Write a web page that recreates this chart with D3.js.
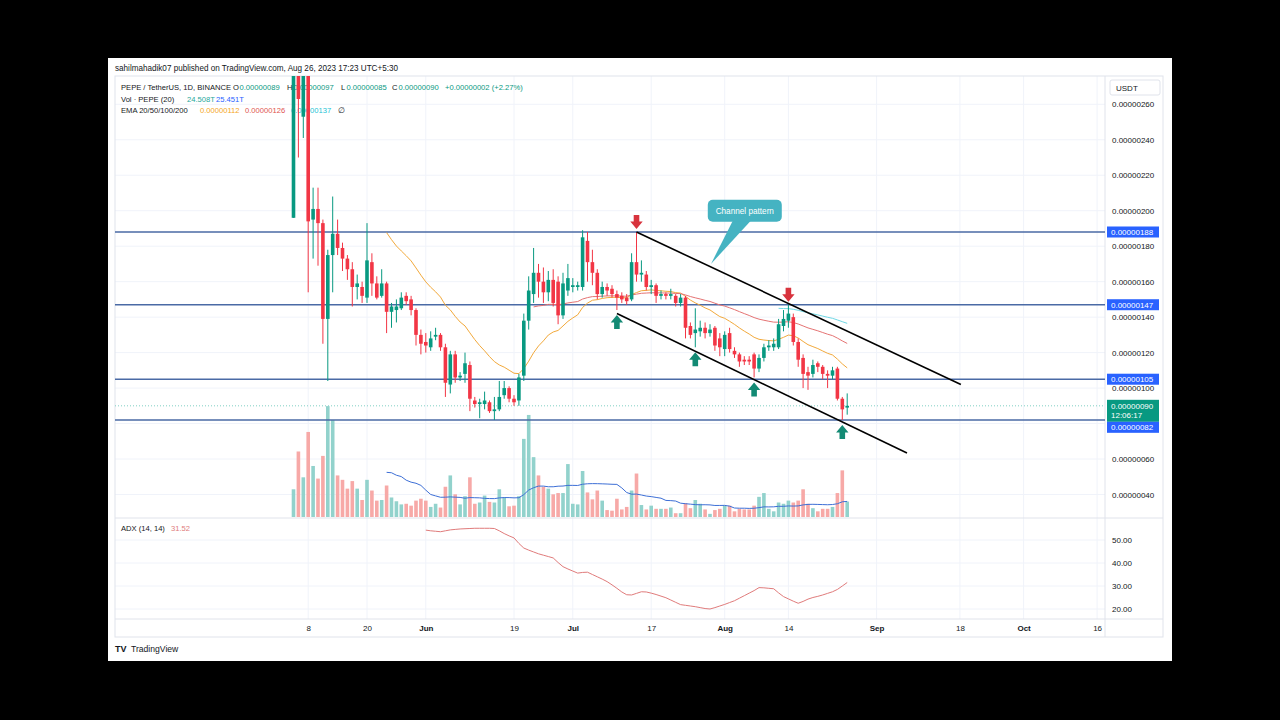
<!DOCTYPE html>
<html>
<head>
<meta charset="utf-8">
<script src="https://cdn.jsdelivr.net/npm/d3@7"></script>
<style>
  html, body { margin: 0; padding: 0; background: #000; }
  svg { display: block; }
  text { font-family: "Liberation Sans", Arial, sans-serif; }
</style>
</head>
<body>
<svg id="chart" width="1280" height="720"></svg>
<script>
// daily candles PEPE/USDT from 2023-05-05, prices in units of 0.00000001
var startDate = "2023-05-05";
var opens = [196,340,253,290,195,201,193,139,175,187,
  179,173,167,157,157,151,171,159,152,159,
  143,144,145,152,150,144,130,126,123,129,
  130,123,102,119,106,108,113,93,91,91,
  92,87,88,96,100,94,93,107,138,153,
  165,160,154,161,160,141,155,157,157,157,
  183,171,165,153,157,156,153,152,151,150,
  171,164,164,157,158,152,153,152,152,148,
  151,135,131,132,134,131,134,128,122,131,
  121,119,116,116,119,111,117,123,123,123,
  135,138,140,126,117,109,108,114,112,108,
  107,111,94,89];
var highs = [430,380,300,300,213,213,195,178,208,195,
  182,175,171,164,160,193,176,163,167,160,
  148,150,154,154,152,145,133,131,132,134,
  131,125,121,121,109,120,115,95,94,98,
  93,95,104,104,101,96,108,142,163,179,
  170,168,166,167,163,165,170,162,160,189,
  188,178,167,160,159,158,155,154,153,176,
  188,172,166,161,159,155,154,156,153,153,
  152,137,145,138,137,136,135,131,132,134,
  123,120,118,118,120,119,125,127,128,139,
  144,147,142,128,119,112,116,115,113,110,
  112,112,95,97];
var lows = [196,230,241,154,173,169,125,104,154,175,
  166,161,146,150,148,148,152,150,151,131,
  134,137,144,147,141,124,119,120,121,127,
  121,95,97,103,104,103,87,89,83,88,
  86,82,87,94,92,90,90,104,133,148,
  151,148,149,146,136,139,152,154,155,155,
  160,158,150,151,152,151,144,148,147,149,
  160,160,155,153,148,150,150,150,146,146,
  128,128,123,129,128,129,121,118,118,120,
  117,112,113,113,106,109,115,121,121,122,
  132,134,124,112,100,99,106,109,105,100,
  105,93,82,85];
var closes = [340,263,290,194,201,193,139,175,187,179,
  173,167,157,159,152,172,159,151,159,143,
  146,146,151,149,144,130,125,124,128,130,
  123,103,119,106,107,114,94,91,92,93,
  87,88,95,100,94,92,106,138,155,165,
  160,154,161,148,141,159,162,158,158,185,
  171,165,153,157,155,153,151,150,149,171,
  164,165,157,158,152,153,152,153,148,151,
  134,130,133,134,131,133,124,123,130,122,
  119,115,115,115,111,117,123,124,125,136,
  139,142,126,116,108,107,113,112,108,107,
  110,94,88,90];
// volume in T (trillions)
var volumes = [44,104,63,135,81,61,97,176,154,66,
  59,45,57,45,27,59,42,26,27,50,
  31,25,20,21,18,26,29,26,16,21,
  15,48,66,36,20,33,63,21,23,34,
  24,23,44,31,17,18,33,124,162,95,
  66,48,45,36,38,38,84,21,20,73,
  39,28,42,26,11,10,29,12,16,42,
  69,19,12,18,13,13,13,15,6,6,
  22,14,27,21,12,5,11,13,18,18,
  9,13,12,12,18,32,38,13,9,23,
  21,26,23,26,44,21,14,9,13,13,
  16,38,74,24.508];
var adxStart = 27;
var adxValues = [54.3,54.0,53.8,53.6,54.0,54.4,54.6,54.8,54.9,55.0,
  55.1,55.1,55.1,55.1,55.0,54.0,52.8,51.8,50.9,48.5,
  46.5,45.6,44.8,44.0,43.4,42.8,42.2,40.2,38.4,37.4,
  36.5,35.6,35.9,36.0,35.0,34.0,33.0,31.9,30.5,29.0,
  27.4,26.2,26.1,26.8,27.5,27.4,26.9,26.3,25.6,24.9,
  23.9,22.9,21.9,21.6,21.3,21.0,20.6,20.2,20.0,20.6,
  21.3,22.0,22.8,23.6,24.7,25.8,26.9,28.0,29.3,29.2,
  29.0,28.8,27.0,25.4,24.4,23.4,22.5,23.3,24.3,25.0,
  25.5,26.1,26.8,27.5,28.5,30.0,31.52];
// legend readings of the indicators (last bar)
var volLegend = ["24.508T", "25.451T"];
var emaLegend = ["0.00000112", "0.00000126", "0.00000137"];

var levels = [188, 147, 105, 82];
var priceTicks = [40, 60, 80, 100, 120, 140, 160, 180, 200, 220, 240, 260];
var hiddenTicks = [80];
var adxTicks = [20, 30, 40, 50];
var tickDates = ["2023-05-08","2023-05-20","2023-06-01","2023-06-19","2023-07-01","2023-07-17",
  "2023-08-01","2023-08-14","2023-09-01","2023-09-18","2023-10-01","2023-10-16"];
var tickLabels = ["8","20","Jun","19","Jul","17","Aug","14","Sep","18","Oct","16"];
// channel pattern: [day index, price]
var channelUpper = [[70, 188], [136.2, 102]];
var channelLower = [[66, 142], [125.2, 63.4]];
var arrowsDown = [70, 101];
var arrowsUp = [66, 82, 94, 112];

var svg = d3.select("#chart");
var unit = 1e-8;
var parseDay = d3.utcParse("%Y-%m-%d");
var day0 = parseDay(startDate);
var greenC = "#089981", redC = "#f23645", inkC = "#131722";
var last = closes.length - 1;

//pane geometry
var left = 115, right = 1105, axisRight = 1163;
var mainTop = 76, mainBottom = 518, adxBottom = 619, frameBottom = 637;

var x = d3.scaleUtc()
  .domain([day0, parseDay("2023-10-16")])
  .range([293.5, 1097.1]);
function xAt(i) { return x(new Date(+day0 + i * 864e5)); }

var y = d3.scaleLinear().domain([40, 260]).range([494.5, 104.3]);
var yVol = d3.scaleLinear().domain([0, 100]).range([517, 454]);
var yAdx = d3.scaleLinear().domain([20, 50]).range([609, 540]);

function fmt(v) { return (v * unit).toFixed(8); }

svg.append("rect").attr("width", 1280).attr("height", 720).attr("fill", "#000");
svg.append("rect").attr("x", 108).attr("y", 58).attr("width", 1064).attr("height", 603).attr("fill", "#fff");

var defs = svg.append("defs");
defs.append("clipPath").attr("id", "mainClip").append("rect")
  .attr("x", left).attr("y", mainTop).attr("width", right - left).attr("height", mainBottom - mainTop);
defs.append("clipPath").attr("id", "adxClip").append("rect")
  .attr("x", left).attr("y", mainBottom).attr("width", right - left).attr("height", adxBottom - mainBottom);

// grid lines
var grid = svg.append("g");
grid.selectAll("line.v").data(tickDates).enter().append("line")
  .attr("x1", function(d) { return x(parseDay(d)); })
  .attr("x2", function(d) { return x(parseDay(d)); })
  .attr("y1", mainTop).attr("y2", adxBottom)
  .attr("stroke", "#f0f3fa");
grid.selectAll("line.h").data(priceTicks).enter().append("line")
  .attr("x1", left).attr("x2", right)
  .attr("y1", function(d) { return y(d); }).attr("y2", function(d) { return y(d); })
  .attr("stroke", "#f0f3fa");
grid.selectAll("line.a").data(adxTicks).enter().append("line")
  .attr("x1", left).attr("x2", right)
  .attr("y1", function(d) { return yAdx(d); }).attr("y2", function(d) { return yAdx(d); })
  .attr("stroke", "#f0f3fa");

// frame and separators
svg.append("rect").attr("x", left).attr("y", mainTop).attr("width", axisRight - left)
  .attr("height", frameBottom - mainTop).attr("fill", "none").attr("stroke", "#e0e3eb");
svg.append("line").attr("x1", right).attr("x2", right).attr("y1", mainTop).attr("y2", frameBottom).attr("stroke", "#e0e3eb");
svg.append("line").attr("x1", left).attr("x2", axisRight).attr("y1", mainBottom).attr("y2", mainBottom).attr("stroke", "#e0e3eb");
svg.append("line").attr("x1", left).attr("x2", axisRight).attr("y1", adxBottom).attr("y2", adxBottom).attr("stroke", "#e0e3eb");

// header and legend texts (drawn under the candles)
svg.append("text").attr("x", 115).attr("y", 71).attr("font-size", 9).attr("fill", inkC)
  .attr("textLength", 283).attr("lengthAdjust", "spacingAndGlyphs")
  .text("sahilmahadik07 published on TradingView.com, Aug 26, 2023 17:23 UTC+5:30");

// one text per legend row, pieces as tspans
function legendRow(py, pieces) {
  var t = svg.append("text").attr("y", py).attr("font-size", 7.6);
  pieces.forEach(function(p) {
    t.append("tspan").attr("x", p[0]).attr("fill", p[2]).text(p[1]);
  });
}
var change = closes[last] - closes[last - 1];
legendRow(90, [
  [121, "PEPE / TetherUS, 1D, BINANCE", inkC],
  [233, "O", inkC], [239.5, fmt(opens[last]), greenC],
  [287, "H", inkC], [293.5, fmt(highs[last]), greenC],
  [341, "L", inkC], [346.5, fmt(lows[last]), greenC],
  [392, "C", inkC], [398.5, fmt(closes[last]), greenC],
  [445, "+" + fmt(change) + " (+" + (change / closes[last - 1] * 100).toFixed(2) + "%)", greenC]
]);
legendRow(101.5, [
  [121, "Vol \u00b7 PEPE (20)", inkC],
  [187, volLegend[0], "#26a69a"],
  [216, volLegend[1], "#2962ff"]
]);
legendRow(113, [
  [121, "EMA 20/50/100/200", inkC],
  [200, emaLegend[0], "#f5a623"],
  [245, emaLegend[1], "#e0534f"],
  [291, emaLegend[2], "#22c3d6"],
  [338, "\u2205", inkC]
]);

var volSma = sma(volumes, 20);
var ema20 = ema(closes, 20), ema50 = ema(closes, 50), ema100 = ema(closes, 100);

var main = svg.append("g").attr("clip-path", "url(#mainClip)");

// volume bars
main.append("g").selectAll("rect").data(volumes).enter().append("rect")
  .attr("x", function(d, i) { return xAt(i) - 1.8; })
  .attr("width", 3.6)
  .attr("y", function(d) { return yVol(d); })
  .attr("height", function(d) { return yVol(0) - yVol(d); })
  .attr("fill", function(d, i) { return closes[i] >= opens[i] ? "#92d2cc" : "#f7a9a7"; });

var lineGen = d3.line()
  .defined(function(d) { return d != null; })
  .x(function(d, i) { return xAt(i); });

main.append("path").datum(volSma)
  .attr("d", lineGen.y(function(d) { return yVol(d); }))
  .attr("fill", "none").attr("stroke", "#3d6fd6").attr("stroke-width", 1);

// horizontal levels and last price line
main.selectAll("line.lvl").data(levels).enter().append("line")
  .attr("x1", left).attr("x2", right)
  .attr("y1", function(d) { return y(d); }).attr("y2", function(d) { return y(d); })
  .attr("stroke", "#4a6aa5").attr("stroke-width", 1.6);
main.append("line").attr("x1", left).attr("x2", right)
  .attr("y1", y(closes[last])).attr("y2", y(closes[last]))
  .attr("stroke", "#7fcfc3").attr("stroke-dasharray", "1,2");

// ema lines
[[ema20, "#f2a93b"], [ema50, "#e57373"], [ema100, "#6fd8e4"]].forEach(function(e) {
  main.append("path").datum(e[0])
    .attr("d", lineGen.y(function(d) { return y(d); }))
    .attr("fill", "none").attr("stroke", e[1]).attr("stroke-width", 1);
});

// candles
var candles = main.append("g").selectAll("g").data(closes).enter().append("g");
candles.append("line")
  .attr("x1", function(d, i) { return xAt(i); }).attr("x2", function(d, i) { return xAt(i); })
  .attr("y1", function(d, i) { return y(highs[i]); }).attr("y2", function(d, i) { return y(lows[i]); })
  .attr("stroke", function(d, i) { return d >= opens[i] ? greenC : redC; })
  .attr("stroke-width", 1);
candles.append("rect")
  .attr("x", function(d, i) { return xAt(i) - 1.8; })
  .attr("width", 3.6)
  .attr("y", function(d, i) { return y(Math.max(d, opens[i])); })
  .attr("height", function(d, i) { return Math.max(1, Math.abs(y(d) - y(opens[i]))); })
  .attr("fill", function(d, i) { return d >= opens[i] ? greenC : redC; });

// channel pattern
[channelUpper, channelLower].forEach(function(c) {
  main.append("line")
    .attr("x1", xAt(c[0][0])).attr("y1", y(c[0][1]))
    .attr("x2", xAt(c[1][0])).attr("y2", y(c[1][1]))
    .attr("stroke", "#000").attr("stroke-width", 1.6);
});

// arrows
var downPath = "M-2.8,-14L2.8,-14L2.8,-7.5L6.2,-7.5L0,0L-6.2,-7.5L-2.8,-7.5Z";
var upPath = "M-2.8,14L2.8,14L2.8,7.5L6.2,7.5L0,0L-6.2,7.5L-2.8,7.5Z";
main.selectAll("path.dn").data(arrowsDown).enter().append("path")
  .attr("d", downPath).attr("fill", "#d8333d")
  .attr("transform", function(d) { return "translate(" + xAt(d) + "," + (y(highs[d]) - 3) + ")"; });
main.selectAll("path.up").data(arrowsUp).enter().append("path")
  .attr("d", upPath).attr("fill", "#138a74")
  .attr("transform", function(d) { return "translate(" + xAt(d) + "," + (y(lows[d]) + 5) + ")"; });

// callout
var calloutDay = 92.1, calloutPrice = 200, tipDay = 85.2, tipPrice = 170;
var cx = xAt(calloutDay), cy = y(calloutPrice);
main.append("path")
  .attr("d", "M" + (cx - 12) + "," + (cy + 10) + "L" + xAt(tipDay) + "," + y(tipPrice) + "L" + (cx + 6) + "," + (cy + 10) + "Z")
  .attr("fill", "#45b3c2");
main.append("rect").attr("x", cx - 37).attr("y", cy - 11).attr("width", 74).attr("height", 22).attr("rx", 5)
  .attr("fill", "#45b3c2");
main.append("text").attr("x", cx).attr("y", cy + 3).attr("text-anchor", "middle")
  .attr("font-size", 8.2).attr("fill", "#fff").text("Channel pattern");

// adx pane
var adx = svg.append("g").attr("clip-path", "url(#adxClip)");
adx.append("path").datum(adxValues)
  .attr("d", d3.line().x(function(d, i) { return xAt(i + adxStart); }).y(function(d) { return yAdx(d); }))
  .attr("fill", "none").attr("stroke", "#e07b7b").attr("stroke-width", 1);
legendRow(531, [
  [121, "ADX (14, 14)", inkC],
  [171, adxValues[adxValues.length - 1].toFixed(2), "#e07b7b"]
]);

// price axis
var pAxis = svg.append("g").attr("transform", "translate(" + (right + 3) + ",0)")
  .call(d3.axisRight(y).tickSize(0).tickPadding(4).tickFormat(fmt)
    .tickValues(priceTicks.filter(function(v) { return hiddenTicks.indexOf(v) < 0; })));
pAxis.select(".domain").remove();
pAxis.selectAll("text").attr("font-size", 8).attr("fill", inkC).attr("font-family", "Liberation Sans, Arial");

var aAxis = svg.append("g").attr("transform", "translate(" + (right + 3) + ",0)")
  .call(d3.axisRight(yAdx).tickValues(adxTicks).tickSize(0).tickPadding(4).tickFormat(d3.format(".2f")));
aAxis.select(".domain").remove();
aAxis.selectAll("text").attr("font-size", 8).attr("fill", inkC).attr("font-family", "Liberation Sans, Arial");

// time axis
var tAxis = svg.append("g").attr("transform", "translate(0," + adxBottom + ")")
  .call(d3.axisBottom(x).tickValues(tickDates.map(parseDay)).tickSize(0).tickPadding(6)
    .tickFormat(function(d, i) { return tickLabels[i]; }));
tAxis.select(".domain").remove();
tAxis.selectAll("text").attr("font-size", 8).attr("fill", inkC).attr("font-family", "Liberation Sans, Arial")
  .attr("font-weight", function(d, i) { return isNaN(+tickLabels[i]) ? "bold" : "normal"; });

// USDT box
svg.append("rect").attr("x", 1110).attr("y", 80).attr("width", 50).attr("height", 15).attr("rx", 2)
  .attr("fill", "#fff").attr("stroke", "#e0e3eb");
svg.append("text").attr("x", 1116).attr("y", 91).attr("font-size", 8).attr("fill", inkC).text("USDT");

// level badges
function badge(v, yc, col) {
  svg.append("rect").attr("x", right + 2).attr("y", yc - 5.5).attr("width", 52).attr("height", 11).attr("fill", col);
  svg.append("text").attr("x", right + 6).attr("y", yc + 3).attr("font-size", 8).attr("fill", "#fff").text(fmt(v));
}
badge(levels[0], y(levels[0]), "#2962ff");
badge(levels[1], y(levels[1]), "#2962ff");
badge(levels[2], y(levels[2]), "#2962ff");
// last price badge with countdown, the 82 badge is pushed below it
var lastY = y(closes[last]);
svg.append("rect").attr("x", right + 2).attr("y", lastY - 6).attr("width", 52).attr("height", 22).attr("fill", greenC);
svg.append("text").attr("x", right + 6).attr("y", lastY + 3).attr("font-size", 8).attr("fill", "#fff").text(fmt(closes[last]));
svg.append("text").attr("x", right + 6).attr("y", lastY + 12.5).attr("font-size", 8).attr("fill", "#fff").text("12:06:17");
badge(levels[3], lastY + 21.5, "#2962ff");

// footer logo
svg.append("text").attr("x", 115).attr("y", 652).attr("font-size", 9).attr("font-weight", "bold")
  .attr("fill", inkC).text("TV");
svg.append("text").attr("x", 131).attr("y", 652).attr("font-size", 8.6).attr("fill", inkC).text("TradingView");

function ema(values, n) {
  var out = [], k = 2 / (n + 1), prev = null;
  values.forEach(function(v, i) {
    if (i < n - 1) { out.push(null); return; }
    prev = (i === n - 1) ? d3.mean(values.slice(0, n)) : v * k + prev * (1 - k);
    out.push(prev);
  });
  return out;
}

function sma(values, n) {
  return values.map(function(v, i) {
    return i < n - 1 ? null : d3.mean(values.slice(i - n + 1, i + 1));
  });
}
</script>
</body>
</html>
